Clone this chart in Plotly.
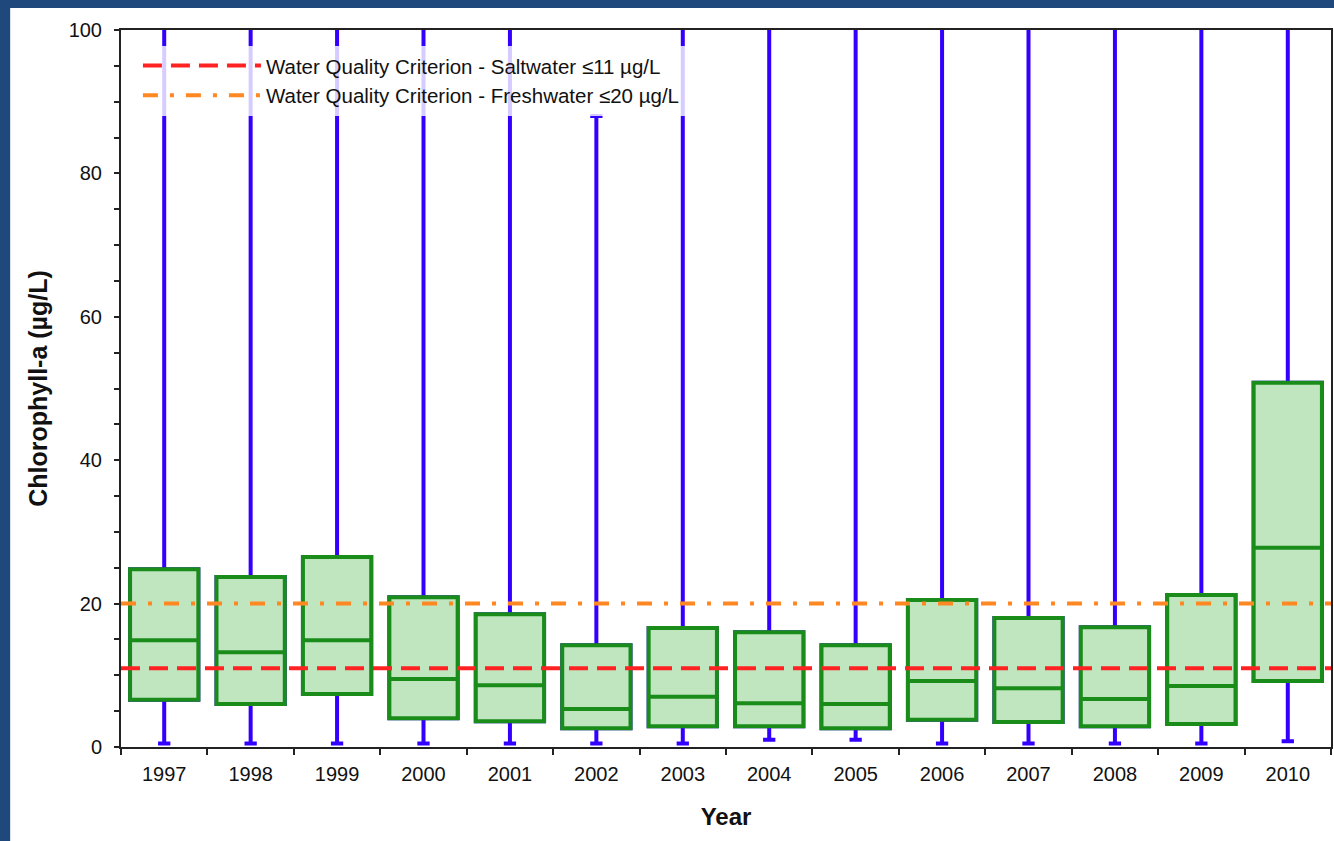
import plotly.graph_objects as go

# Annual chlorophyll-a distributions (µg/L)
years = ["1997", "1998", "1999", "2000", "2001", "2002", "2003",
         "2004", "2005", "2006", "2007", "2008", "2009", "2010"]
q1 = [6.6, 6.0, 7.4, 4.0, 3.6, 2.6, 2.9, 2.9, 2.6, 3.8, 3.5, 2.9, 3.2, 9.2]
median = [14.9, 13.2, 14.9, 9.5, 8.6, 5.3, 7.0, 6.1, 6.0, 9.2, 8.2, 6.7, 8.5, 27.8]
q3 = [24.8, 23.7, 26.5, 20.9, 18.5, 14.2, 16.6, 16.0, 14.2, 20.5, 18.0, 16.7, 21.2, 50.8]
whisker_low = [0.5, 0.5, 0.5, 0.5, 0.5, 0.5, 0.5, 1.0, 1.0, 0.5, 0.5, 0.5, 0.5, 0.8]
# maxima above the 100 µg/L axis limit run off the top of the chart
whisker_high = [130, 130, 130, 130, 130, 88, 130, 130, 130, 130, 130, 130, 130, 130]

saltwater_criterion = 11
freshwater_criterion = 20

BLUE = "#3300ff"
GREEN = "#1a8c1a"
FILL = "#c0e6c0"
AXIS = "#222222"
FONT = "Liberation Sans, Arial, sans-serif"
BOX_WIDTH = 0.79

fig = go.Figure()

# blue whiskers with end caps (its box is hidden under the green one)
fig.add_trace(go.Box(
    x=years, q1=q1, median=median, q3=q3,
    lowerfence=whisker_low, upperfence=whisker_high,
    boxpoints=False, whiskerwidth=0.18, width=BOX_WIDTH,
    fillcolor=FILL, line=dict(color=BLUE, width=4),
    showlegend=False, hoverinfo="skip"))

# green interquartile boxes with medians
fig.add_trace(go.Box(
    x=years, q1=q1, median=median, q3=q3, lowerfence=q1, upperfence=q3,
    boxpoints=False, whiskerwidth=0, width=BOX_WIDTH,
    fillcolor=FILL, line=dict(color=GREEN, width=4),
    showlegend=False, hoverinfo="skip"))

# water quality criteria
fig.add_shape(type="line", xref="x domain", yref="y", x0=0, x1=1,
              y0=saltwater_criterion, y1=saltwater_criterion,
              line=dict(color="#ff2222", width=4, dash="19px,9px"),
              showlegend=True, legendrank=1,
              name="Water Quality Criterion - Saltwater ≤11 µg/L")
fig.add_shape(type="line", xref="x domain", yref="y", x0=0, x1=1,
              y0=freshwater_criterion, y1=freshwater_criterion,
              line=dict(color="#ff8822", width=4, dash="15px,12px,4px,12px"),
              showlegend=True, legendrank=2,
              name="Water Quality Criterion - Freshwater ≤20 µg/L")

# dark blue page frame on the left and top edges
fig.add_shape(type="rect", xref="paper", yref="paper", x0=-0.2, x1=-0.0916,
              y0=-0.3, y1=1.2, fillcolor="#1f497d", line=dict(width=0), layer="below")
fig.add_shape(type="rect", xref="paper", yref="paper", x0=-0.2, x1=1.2,
              y0=1.0307, y1=1.2, fillcolor="#1f497d", line=dict(width=0), layer="below")

fig.update_layout(
    width=1334, height=841,
    margin=dict(l=121, r=1, t=30, b=94),
    paper_bgcolor="white", plot_bgcolor="white",
    boxmode="overlay",
    font=dict(family=FONT, size=19, color="#111111"),
    legend=dict(
        x=0.014, y=0.978, xanchor="left", yanchor="top",
        bgcolor="rgba(255,255,255,0.8)", borderwidth=0,
        itemwidth=118, tracegroupgap=0,
        font=dict(family=FONT, size=20.5, color="#111111"),
    ),
    xaxis=dict(
        type="category", range=[-0.5, 13.5], tickson="boundaries",
        ticks="outside", ticklen=6, tickwidth=2, tickcolor=AXIS,
        ticklabelstandoff=8, tickfont=dict(family=FONT, size=20, color="#111111"),
        showline=True, linecolor=AXIS, linewidth=2, mirror=True,
        showgrid=False, zeroline=False,
        title=dict(text="<b>Year</b>", font=dict(family=FONT, size=24), standoff=24),
    ),
    yaxis=dict(
        range=[0, 100], dtick=20, tick0=0,
        ticks="outside", ticklen=5, tickwidth=1.5, tickcolor=AXIS,
        ticklabelstandoff=8, tickfont=dict(family=FONT, size=20, color="#111111"),
        minor=dict(dtick=5, ticks="outside", ticklen=5, tickwidth=1.5, tickcolor=AXIS),
        showline=True, linecolor=AXIS, linewidth=2, mirror=True,
        showgrid=False, zeroline=False,
        title=dict(text="<b>Chlorophyll-a (µg/L)</b>", font=dict(family=FONT, size=25), standoff=14),
    ),
)

fig.write_html("out.html")
